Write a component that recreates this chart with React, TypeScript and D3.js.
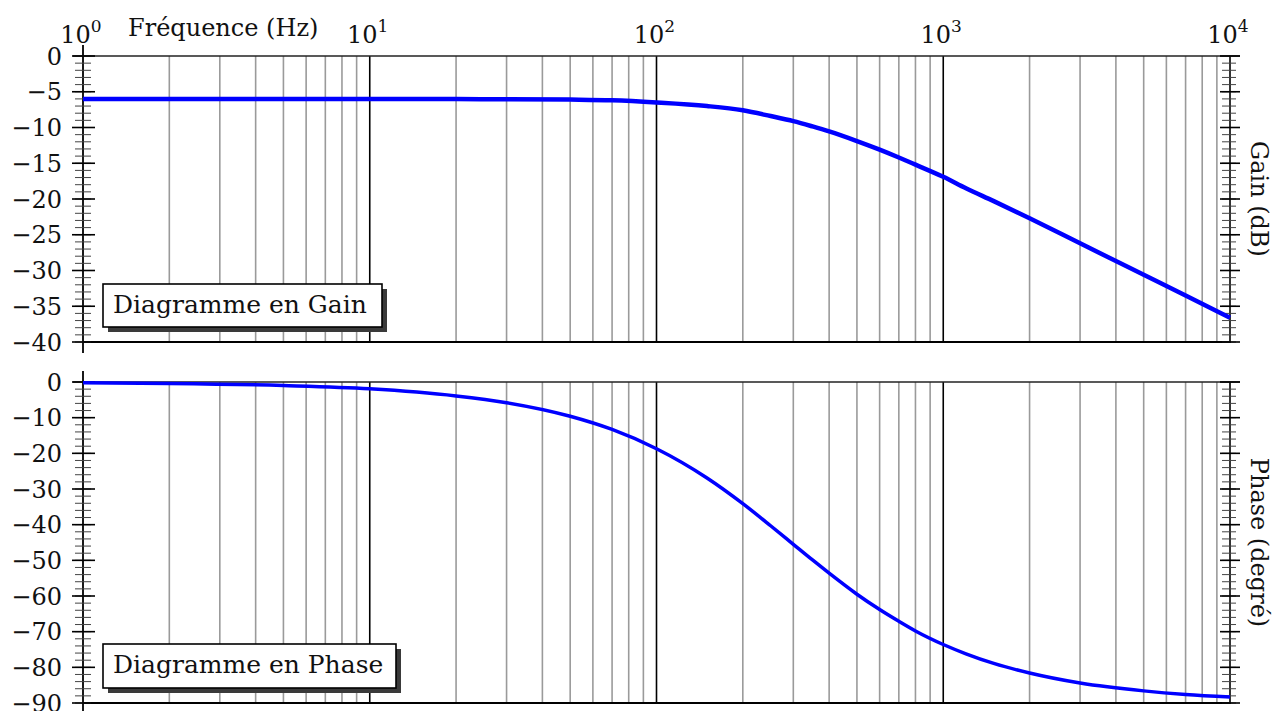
import React from "react";
import * as d3 from "d3";

const freqs = [1, 2, 5, 10, 20, 30, 50, 70, 100, 150, 200, 250, 300, 350, 400, 500, 600, 700, 800, 1000, 1200, 1500, 2000, 3000, 5000, 7000, 10000];
const gainDb = [-6.0, -6.0, -6.0, -6.0, -6.03, -6.04, -6.1, -6.2, -6.5, -7.0, -7.6, -8.4, -9.1, -9.85, -10.55, -11.9, -13.1, -14.2, -15.2, -16.9, -18.5, -20.3, -22.7, -26.2, -30.6, -33.5, -36.6];
const phaseDeg = [-0.2, -0.4, -1.0, -1.9, -3.9, -5.8, -9.6, -13.3, -18.7, -26.9, -34.1, -40.3, -45.5, -49.9, -53.6, -59.5, -63.8, -67.1, -69.8, -73.6, -76.2, -78.9, -81.6, -84.4, -86.6, -87.6, -88.3];
const decadeExps = [0, 1, 2, 3, 4];
const gainTicks = [0, -5, -10, -15, -20, -25, -30, -35, -40];
const phaseTicks = [0, -10, -20, -30, -40, -50, -60, -70, -80, -90];

const FONT = "DejaVu Serif";
const X0 = 83, X1 = 1230;

function Panel({ top, bottom, domain, ticks, minorStep, values, title, ylabel, legendBox, strokeW, isTop }: any) {
  const x = d3.scaleLog().domain([1, 10000]).range([X0, X1]);
  const y = d3.scaleLinear().domain(domain).range([top, bottom]);
  const minorVals: number[] = [];
  for (let v = domain[0]; v >= domain[1] - 1e-9; v -= minorStep) minorVals.push(v);
  const gridMinor: number[] = [];
  for (let e = 0; e < 4; e++) for (let k = 2; k <= 9; k++) gridMinor.push(k * Math.pow(10, e));
  const line = d3
    .line<number>()
    .x((_, i) => x(freqs[i]))
    .y((d) => y(d))
    .curve(d3.curveMonotoneX);
  const mid = (top + bottom) / 2;
  return (
    <g>
      {gridMinor.map((f) => (
        <line key={"g" + f} x1={x(f)} x2={x(f)} y1={top} y2={bottom} stroke="#9a9a9a" strokeWidth={1.6} />
      ))}
      {decadeExps.slice(1, 4).map((e) => (
        <line key={"d" + e} x1={x(Math.pow(10, e))} x2={x(Math.pow(10, e))} y1={top} y2={bottom} stroke="#000" strokeWidth={1.6} />
      ))}
      {/* frame */}
      <line x1={X0 - 10} x2={1240} y1={top} y2={top} stroke="#222" strokeWidth={1.6} />
      <line x1={X0} x2={X1 + 1} y1={bottom} y2={bottom} stroke="#000" strokeWidth={1.8} />
      <line x1={X0} x2={X0} y1={top - 11} y2={bottom + 11} stroke="#000" strokeWidth={1.8} />
      <line x1={X1} x2={X1} y1={top} y2={bottom} stroke="#000" strokeWidth={1.6} />
      {/* minor ticks */}
      {minorVals.map((v) => (
        <g key={"m" + v}>
          <line x1={X0 - 8} x2={X0 + 8} y1={y(v)} y2={y(v)} stroke="#444" strokeWidth={1} />
          <line x1={X1 - 8} x2={X1 + 6} y1={y(v)} y2={y(v)} stroke="#444" strokeWidth={1} />
        </g>
      ))}
      {ticks.map((v: number) => (
        <g key={"t" + v}>
          <line x1={X0 - 11} x2={X0 + 12} y1={y(v)} y2={y(v)} stroke="#000" strokeWidth={1.6} />
          <line x1={X1 - 10} x2={X1 + 10} y1={y(v)} y2={y(v)} stroke="#000" strokeWidth={1.6} />
          <text x={62} y={y(v)} dy="0.36em" textAnchor="end" fontFamily={FONT} fontSize={24} fill="#111">
            {v === 0 ? "0" : "\u2212" + Math.abs(v)}
          </text>
        </g>
      ))}
      <path d={line(values) || ""} fill="none" stroke="#0000ff" strokeWidth={strokeW} />
      {/* legend box */}
      <rect x={legendBox[0] + 5} y={legendBox[1] + 5} width={legendBox[2]} height={legendBox[3]} fill="#3a3a3a" />
      <rect x={legendBox[0]} y={legendBox[1]} width={legendBox[2]} height={legendBox[3]} fill="#fff" stroke="#000" strokeWidth={1.6} />
      <text x={legendBox[0] + 10} y={legendBox[1] + 29} fontFamily={FONT} fontSize={25} fill="#111">
        {title}
      </text>
      <text
        transform={`translate(1251,${mid}) rotate(90)`}
        textAnchor="middle"
        fontFamily={FONT}
        fontSize={24}
        fill="#111"
      >
        {ylabel}
      </text>
      {isTop &&
        decadeExps.map((e) => (
          <text key={"x" + e} x={x(Math.pow(10, e)) - 2} y={43} textAnchor="middle" fontFamily={FONT} fontSize={24} fill="#111">
            10<tspan dy={-11} fontSize={17}>{e}</tspan>
          </text>
        ))}
    </g>
  );
}

export default function App() {
  return (
    <svg width={1273} height={711} style={{ position: "absolute", left: 0, top: 0, background: "#fff" }}>
      <rect width={1273} height={711} fill="#fff" />
      <text x={128} y={36} fontFamily={FONT} fontSize={24} fill="#111">
        Fréquence (Hz)
      </text>
      <Panel
        top={56}
        bottom={342}
        domain={[0, -40]}
        ticks={gainTicks}
        minorStep={1}
        values={gainDb}
        title="Diagramme en Gain"
        ylabel="Gain (dB)"
        legendBox={[103, 284, 279, 43]}
        strokeW={4.5}
        isTop={true}
      />
      <Panel
        top={382}
        bottom={703}
        domain={[0, -90]}
        ticks={phaseTicks}
        minorStep={2}
        values={phaseDeg}
        title="Diagramme en Phase"
        ylabel="Phase (degré)"
        legendBox={[103, 644, 293, 44]}
        strokeW={3.5}
        isTop={false}
      />
    </svg>
  );
}
